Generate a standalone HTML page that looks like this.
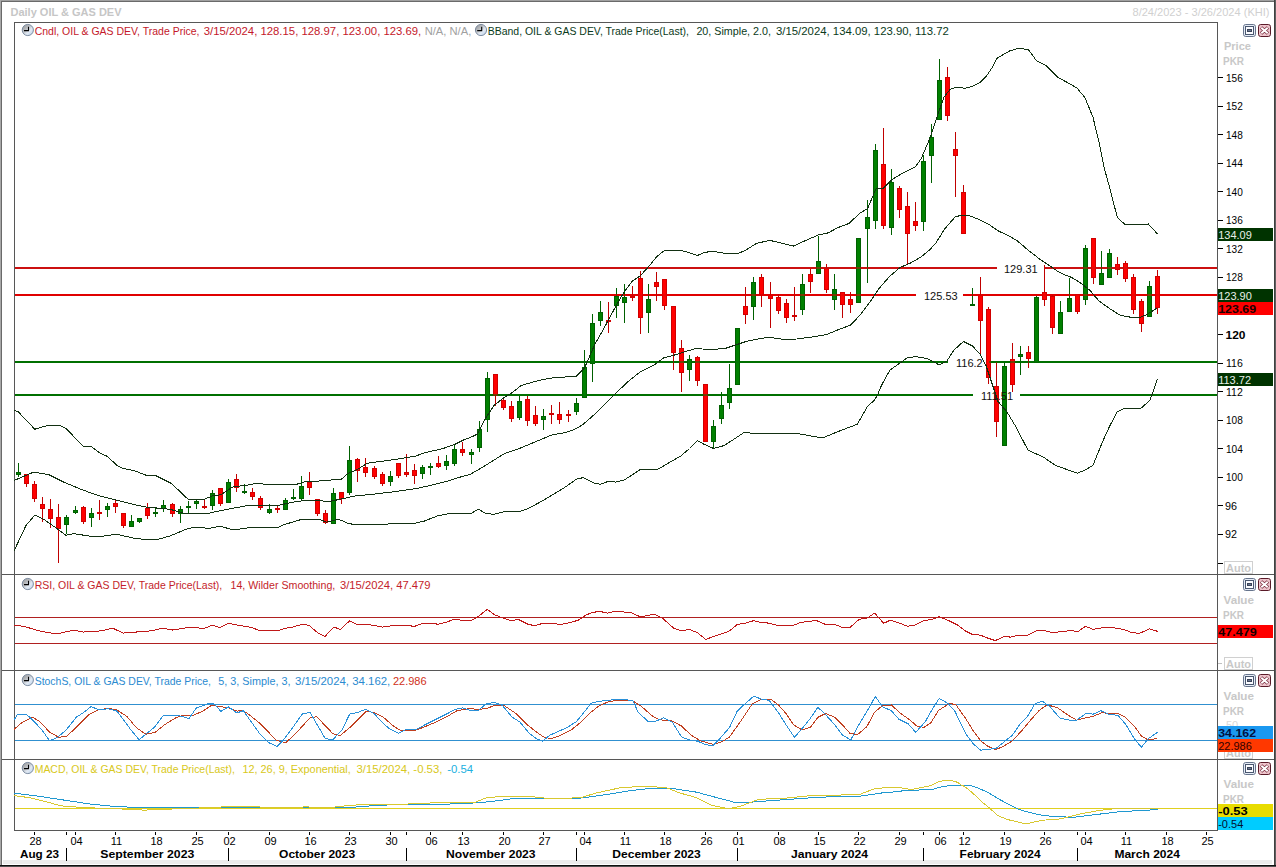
<!DOCTYPE html>
<html><head><meta charset="utf-8"><style>
html,body{margin:0;padding:0;background:#fff;overflow:hidden;}
svg{display:block;font-family:"Liberation Sans", sans-serif;}
text{white-space:pre;}
</style></head><body>
<svg width="1276" height="867" viewBox="0 0 1276 867">
<defs>
<linearGradient id="clk" x1="0" y1="0" x2="1" y2="1">
<stop offset="0" stop-color="#949494"/><stop offset="0.35" stop-color="#b6b9bd"/><stop offset="0.62" stop-color="#e2eaf4"/><stop offset="1" stop-color="#b4cce8"/>
</linearGradient>
</defs>
<rect x="0" y="0" width="1276" height="867" fill="#fff"/>

<g shape-rendering="crispEdges">
<rect x="0" y="0" width="1276" height="1" fill="#a0a0a0"/>
<rect x="1" y="1" width="1274" height="1" fill="#6a6a6a"/>
<rect x="0" y="0" width="1" height="867" fill="#a8a8a8"/>
<rect x="1" y="1" width="1" height="866" fill="#6a6a6a"/>
<rect x="1274" y="0" width="1" height="867" fill="#404040"/>
<rect x="1275" y="0" width="1" height="867" fill="#606060"/>
<rect x="3" y="860" width="1269" height="4" fill="#ececec"/>
<rect x="0" y="865" width="1276" height="1" fill="#101010"/>
<rect x="0" y="866" width="1276" height="1" fill="#505050"/>
</g>
<text x="10.5" y="16" fill="#c6c6c6" font-size="11" font-weight="bold" text-anchor="start" textLength="111" lengthAdjust="spacingAndGlyphs">Daily OIL &amp; GAS DEV</text>
<text x="1132.5" y="16" fill="#d0d0d0" font-size="11" font-weight="normal" text-anchor="start" textLength="137" lengthAdjust="spacingAndGlyphs">8/24/2023 - 3/26/2024 (KHI)</text>
<g shape-rendering="crispEdges">
<rect x="14" y="22" width="1204" height="1" fill="#575757"/>
<rect x="2" y="574" width="1272" height="1" fill="#575757"/>
<rect x="2" y="670" width="1272" height="1" fill="#575757"/>
<rect x="2" y="759" width="1272" height="1" fill="#575757"/>
<rect x="14" y="830" width="1204" height="1" fill="#575757"/>
<rect x="14" y="22" width="1" height="809" fill="#575757"/>
<rect x="1217" y="22" width="1" height="809" fill="#575757"/>
</g>
<g shape-rendering="crispEdges" opacity="1">
<rect x="15" y="267" width="982" height="2" fill="#cc1010"/>
<rect x="1044" y="267" width="173" height="2" fill="#cc1010"/>
<rect x="15" y="294" width="901" height="2" fill="#e00000"/>
<rect x="963" y="294" width="254" height="2" fill="#e00000"/>
<rect x="15" y="361" width="933" height="2" fill="#007000"/>
<rect x="989" y="361" width="228" height="2" fill="#007000"/>
<rect x="15" y="394" width="958" height="2" fill="#007000"/>
<rect x="1020" y="394" width="197" height="2" fill="#007000"/>
</g>
<g shape-rendering="crispEdges">
<rect x="18" y="463" width="1" height="14" fill="#006000"/>
<rect x="16" y="472" width="5" height="3" fill="#006000"/>
<rect x="17" y="473" width="3" height="1" fill="#008000"/>
<rect x="26" y="474" width="1" height="13" fill="#c00000"/>
<rect x="24" y="474" width="5" height="10" fill="#d00000"/>
<rect x="25" y="475" width="3" height="8" fill="#ff0000"/>
<rect x="34" y="481" width="1" height="21" fill="#c00000"/>
<rect x="32" y="484" width="5" height="15" fill="#d00000"/>
<rect x="33" y="485" width="3" height="13" fill="#ff0000"/>
<rect x="42" y="497" width="1" height="25" fill="#c00000"/>
<rect x="40" y="504" width="5" height="5" fill="#d00000"/>
<rect x="41" y="505" width="3" height="3" fill="#ff0000"/>
<rect x="50" y="499" width="1" height="29" fill="#c00000"/>
<rect x="48" y="509" width="5" height="10" fill="#d00000"/>
<rect x="49" y="510" width="3" height="8" fill="#ff0000"/>
<rect x="58" y="504" width="1" height="59" fill="#c00000"/>
<rect x="56" y="517" width="5" height="12" fill="#d00000"/>
<rect x="57" y="518" width="3" height="10" fill="#ff0000"/>
<rect x="66" y="515" width="1" height="19" fill="#006000"/>
<rect x="64" y="517" width="5" height="8" fill="#006000"/>
<rect x="65" y="518" width="3" height="6" fill="#008000"/>
<rect x="75" y="506" width="1" height="8" fill="#006000"/>
<rect x="73" y="510" width="5" height="3" fill="#006000"/>
<rect x="74" y="511" width="3" height="1" fill="#008000"/>
<rect x="83" y="506" width="1" height="18" fill="#c00000"/>
<rect x="81" y="507" width="5" height="15" fill="#d00000"/>
<rect x="82" y="508" width="3" height="13" fill="#ff0000"/>
<rect x="91" y="508" width="1" height="19" fill="#006000"/>
<rect x="89" y="513" width="5" height="5" fill="#006000"/>
<rect x="90" y="514" width="3" height="3" fill="#008000"/>
<rect x="99" y="500" width="1" height="20" fill="#c00000"/>
<rect x="97" y="512" width="5" height="2" fill="#d00000"/>
<rect x="107" y="503" width="1" height="14" fill="#006000"/>
<rect x="105" y="506" width="5" height="4" fill="#006000"/>
<rect x="106" y="507" width="3" height="2" fill="#008000"/>
<rect x="115" y="500" width="1" height="13" fill="#c00000"/>
<rect x="113" y="503" width="5" height="4" fill="#d00000"/>
<rect x="114" y="504" width="3" height="2" fill="#ff0000"/>
<rect x="123" y="513" width="1" height="15" fill="#c00000"/>
<rect x="121" y="513" width="5" height="13" fill="#d00000"/>
<rect x="122" y="514" width="3" height="11" fill="#ff0000"/>
<rect x="131" y="515" width="1" height="12" fill="#006000"/>
<rect x="129" y="521" width="5" height="6" fill="#006000"/>
<rect x="130" y="522" width="3" height="4" fill="#008000"/>
<rect x="139" y="518" width="1" height="5" fill="#006000"/>
<rect x="137" y="518" width="5" height="4" fill="#006000"/>
<rect x="138" y="519" width="3" height="2" fill="#008000"/>
<rect x="147" y="503" width="1" height="16" fill="#c00000"/>
<rect x="145" y="508" width="5" height="8" fill="#d00000"/>
<rect x="146" y="509" width="3" height="6" fill="#ff0000"/>
<rect x="155" y="508" width="1" height="9" fill="#006000"/>
<rect x="153" y="512" width="5" height="2" fill="#006000"/>
<rect x="163" y="500" width="1" height="12" fill="#006000"/>
<rect x="161" y="505" width="5" height="4" fill="#006000"/>
<rect x="162" y="506" width="3" height="2" fill="#008000"/>
<rect x="172" y="503" width="1" height="14" fill="#c00000"/>
<rect x="170" y="504" width="5" height="10" fill="#d00000"/>
<rect x="171" y="505" width="3" height="8" fill="#ff0000"/>
<rect x="180" y="506" width="1" height="17" fill="#006000"/>
<rect x="178" y="509" width="5" height="5" fill="#006000"/>
<rect x="179" y="510" width="3" height="3" fill="#008000"/>
<rect x="188" y="501" width="1" height="13" fill="#006000"/>
<rect x="186" y="506" width="5" height="2" fill="#006000"/>
<rect x="196" y="500" width="1" height="9" fill="#006000"/>
<rect x="194" y="501" width="5" height="3" fill="#006000"/>
<rect x="195" y="502" width="3" height="1" fill="#008000"/>
<rect x="204" y="500" width="1" height="9" fill="#c00000"/>
<rect x="202" y="506" width="5" height="2" fill="#d00000"/>
<rect x="212" y="490" width="1" height="20" fill="#006000"/>
<rect x="210" y="493" width="5" height="13" fill="#006000"/>
<rect x="211" y="494" width="3" height="11" fill="#008000"/>
<rect x="220" y="488" width="1" height="18" fill="#c00000"/>
<rect x="218" y="488" width="5" height="16" fill="#d00000"/>
<rect x="219" y="489" width="3" height="14" fill="#ff0000"/>
<rect x="228" y="479" width="1" height="24" fill="#006000"/>
<rect x="226" y="482" width="5" height="21" fill="#006000"/>
<rect x="227" y="483" width="3" height="19" fill="#008000"/>
<rect x="236" y="474" width="1" height="18" fill="#c00000"/>
<rect x="234" y="479" width="5" height="9" fill="#d00000"/>
<rect x="235" y="480" width="3" height="7" fill="#ff0000"/>
<rect x="244" y="484" width="1" height="10" fill="#006000"/>
<rect x="242" y="491" width="5" height="2" fill="#006000"/>
<rect x="252" y="488" width="1" height="12" fill="#c00000"/>
<rect x="250" y="492" width="5" height="5" fill="#d00000"/>
<rect x="251" y="493" width="3" height="3" fill="#ff0000"/>
<rect x="260" y="496" width="1" height="14" fill="#c00000"/>
<rect x="258" y="498" width="5" height="10" fill="#d00000"/>
<rect x="259" y="499" width="3" height="8" fill="#ff0000"/>
<rect x="269" y="504" width="1" height="10" fill="#006000"/>
<rect x="267" y="509" width="5" height="4" fill="#006000"/>
<rect x="268" y="510" width="3" height="2" fill="#008000"/>
<rect x="277" y="506" width="1" height="7" fill="#c00000"/>
<rect x="275" y="508" width="5" height="2" fill="#d00000"/>
<rect x="285" y="498" width="1" height="12" fill="#006000"/>
<rect x="283" y="500" width="5" height="10" fill="#006000"/>
<rect x="284" y="501" width="3" height="8" fill="#008000"/>
<rect x="293" y="489" width="1" height="11" fill="#006000"/>
<rect x="291" y="497" width="5" height="2" fill="#006000"/>
<rect x="301" y="476" width="1" height="24" fill="#006000"/>
<rect x="299" y="486" width="5" height="13" fill="#006000"/>
<rect x="300" y="487" width="3" height="11" fill="#008000"/>
<rect x="309" y="472" width="1" height="23" fill="#c00000"/>
<rect x="307" y="482" width="5" height="6" fill="#d00000"/>
<rect x="308" y="483" width="3" height="4" fill="#ff0000"/>
<rect x="317" y="499" width="1" height="17" fill="#c00000"/>
<rect x="315" y="499" width="5" height="15" fill="#d00000"/>
<rect x="316" y="500" width="3" height="13" fill="#ff0000"/>
<rect x="325" y="510" width="1" height="14" fill="#c00000"/>
<rect x="323" y="513" width="5" height="10" fill="#d00000"/>
<rect x="324" y="514" width="3" height="8" fill="#ff0000"/>
<rect x="333" y="488" width="1" height="36" fill="#006000"/>
<rect x="331" y="493" width="5" height="31" fill="#006000"/>
<rect x="332" y="494" width="3" height="29" fill="#008000"/>
<rect x="341" y="492" width="1" height="12" fill="#c00000"/>
<rect x="339" y="492" width="5" height="7" fill="#d00000"/>
<rect x="340" y="493" width="3" height="5" fill="#ff0000"/>
<rect x="349" y="446" width="1" height="49" fill="#006000"/>
<rect x="347" y="460" width="5" height="33" fill="#006000"/>
<rect x="348" y="461" width="3" height="31" fill="#008000"/>
<rect x="357" y="458" width="1" height="24" fill="#c00000"/>
<rect x="355" y="459" width="5" height="12" fill="#d00000"/>
<rect x="356" y="460" width="3" height="10" fill="#ff0000"/>
<rect x="365" y="458" width="1" height="19" fill="#c00000"/>
<rect x="363" y="467" width="5" height="6" fill="#d00000"/>
<rect x="364" y="468" width="3" height="4" fill="#ff0000"/>
<rect x="374" y="466" width="1" height="13" fill="#c00000"/>
<rect x="372" y="468" width="5" height="9" fill="#d00000"/>
<rect x="373" y="469" width="3" height="7" fill="#ff0000"/>
<rect x="382" y="472" width="1" height="14" fill="#c00000"/>
<rect x="380" y="474" width="5" height="10" fill="#d00000"/>
<rect x="381" y="475" width="3" height="8" fill="#ff0000"/>
<rect x="390" y="471" width="1" height="15" fill="#006000"/>
<rect x="388" y="476" width="5" height="6" fill="#006000"/>
<rect x="389" y="477" width="3" height="4" fill="#008000"/>
<rect x="398" y="463" width="1" height="15" fill="#c00000"/>
<rect x="396" y="463" width="5" height="13" fill="#d00000"/>
<rect x="397" y="464" width="3" height="11" fill="#ff0000"/>
<rect x="406" y="454" width="1" height="23" fill="#c00000"/>
<rect x="404" y="472" width="5" height="3" fill="#d00000"/>
<rect x="405" y="473" width="3" height="1" fill="#ff0000"/>
<rect x="414" y="464" width="1" height="20" fill="#c00000"/>
<rect x="412" y="470" width="5" height="6" fill="#d00000"/>
<rect x="413" y="471" width="3" height="4" fill="#ff0000"/>
<rect x="422" y="465" width="1" height="14" fill="#006000"/>
<rect x="420" y="467" width="5" height="7" fill="#006000"/>
<rect x="421" y="468" width="3" height="5" fill="#008000"/>
<rect x="430" y="463" width="1" height="12" fill="#006000"/>
<rect x="428" y="466" width="5" height="2" fill="#006000"/>
<rect x="438" y="456" width="1" height="12" fill="#c00000"/>
<rect x="436" y="463" width="5" height="4" fill="#d00000"/>
<rect x="437" y="464" width="3" height="2" fill="#ff0000"/>
<rect x="446" y="455" width="1" height="15" fill="#006000"/>
<rect x="444" y="461" width="5" height="5" fill="#006000"/>
<rect x="445" y="462" width="3" height="3" fill="#008000"/>
<rect x="454" y="444" width="1" height="22" fill="#006000"/>
<rect x="452" y="449" width="5" height="15" fill="#006000"/>
<rect x="453" y="450" width="3" height="13" fill="#008000"/>
<rect x="462" y="442" width="1" height="14" fill="#c00000"/>
<rect x="460" y="449" width="5" height="4" fill="#d00000"/>
<rect x="461" y="450" width="3" height="2" fill="#ff0000"/>
<rect x="471" y="449" width="1" height="15" fill="#006000"/>
<rect x="469" y="452" width="5" height="3" fill="#006000"/>
<rect x="470" y="453" width="3" height="1" fill="#008000"/>
<rect x="479" y="421" width="1" height="31" fill="#006000"/>
<rect x="477" y="429" width="5" height="19" fill="#006000"/>
<rect x="478" y="430" width="3" height="17" fill="#008000"/>
<rect x="487" y="372" width="1" height="60" fill="#006000"/>
<rect x="485" y="378" width="5" height="42" fill="#006000"/>
<rect x="486" y="379" width="3" height="40" fill="#008000"/>
<rect x="495" y="374" width="1" height="32" fill="#c00000"/>
<rect x="493" y="374" width="5" height="22" fill="#d00000"/>
<rect x="494" y="375" width="3" height="20" fill="#ff0000"/>
<rect x="503" y="398" width="1" height="12" fill="#c00000"/>
<rect x="501" y="400" width="5" height="8" fill="#d00000"/>
<rect x="502" y="401" width="3" height="6" fill="#ff0000"/>
<rect x="511" y="401" width="1" height="21" fill="#c00000"/>
<rect x="509" y="406" width="5" height="13" fill="#d00000"/>
<rect x="510" y="407" width="3" height="11" fill="#ff0000"/>
<rect x="519" y="396" width="1" height="24" fill="#006000"/>
<rect x="517" y="401" width="5" height="17" fill="#006000"/>
<rect x="518" y="402" width="3" height="15" fill="#008000"/>
<rect x="527" y="396" width="1" height="30" fill="#c00000"/>
<rect x="525" y="399" width="5" height="22" fill="#d00000"/>
<rect x="526" y="400" width="3" height="20" fill="#ff0000"/>
<rect x="535" y="406" width="1" height="20" fill="#c00000"/>
<rect x="533" y="415" width="5" height="9" fill="#d00000"/>
<rect x="534" y="416" width="3" height="7" fill="#ff0000"/>
<rect x="543" y="409" width="1" height="21" fill="#006000"/>
<rect x="541" y="416" width="5" height="4" fill="#006000"/>
<rect x="542" y="417" width="3" height="2" fill="#008000"/>
<rect x="551" y="405" width="1" height="19" fill="#c00000"/>
<rect x="549" y="413" width="5" height="2" fill="#d00000"/>
<rect x="559" y="402" width="1" height="22" fill="#c00000"/>
<rect x="557" y="414" width="5" height="6" fill="#d00000"/>
<rect x="558" y="415" width="3" height="4" fill="#ff0000"/>
<rect x="568" y="410" width="1" height="12" fill="#c00000"/>
<rect x="566" y="414" width="5" height="2" fill="#d00000"/>
<rect x="576" y="398" width="1" height="17" fill="#006000"/>
<rect x="574" y="403" width="5" height="9" fill="#006000"/>
<rect x="575" y="404" width="3" height="7" fill="#008000"/>
<rect x="584" y="350" width="1" height="48" fill="#006000"/>
<rect x="582" y="367" width="5" height="31" fill="#006000"/>
<rect x="583" y="368" width="3" height="29" fill="#008000"/>
<rect x="592" y="314" width="1" height="68" fill="#006000"/>
<rect x="590" y="323" width="5" height="41" fill="#006000"/>
<rect x="591" y="324" width="3" height="39" fill="#008000"/>
<rect x="600" y="301" width="1" height="25" fill="#006000"/>
<rect x="598" y="312" width="5" height="9" fill="#006000"/>
<rect x="599" y="313" width="3" height="7" fill="#008000"/>
<rect x="608" y="302" width="1" height="31" fill="#c00000"/>
<rect x="606" y="320" width="5" height="2" fill="#d00000"/>
<rect x="616" y="288" width="1" height="30" fill="#006000"/>
<rect x="614" y="296" width="5" height="10" fill="#006000"/>
<rect x="615" y="297" width="3" height="8" fill="#008000"/>
<rect x="624" y="284" width="1" height="39" fill="#006000"/>
<rect x="622" y="297" width="5" height="6" fill="#006000"/>
<rect x="623" y="298" width="3" height="4" fill="#008000"/>
<rect x="632" y="286" width="1" height="15" fill="#c00000"/>
<rect x="630" y="296" width="5" height="2" fill="#d00000"/>
<rect x="640" y="271" width="1" height="63" fill="#c00000"/>
<rect x="638" y="278" width="5" height="40" fill="#d00000"/>
<rect x="639" y="279" width="3" height="38" fill="#ff0000"/>
<rect x="648" y="284" width="1" height="49" fill="#006000"/>
<rect x="646" y="299" width="5" height="14" fill="#006000"/>
<rect x="647" y="300" width="3" height="12" fill="#008000"/>
<rect x="656" y="272" width="1" height="29" fill="#c00000"/>
<rect x="654" y="282" width="5" height="5" fill="#d00000"/>
<rect x="655" y="283" width="3" height="3" fill="#ff0000"/>
<rect x="664" y="279" width="1" height="31" fill="#c00000"/>
<rect x="662" y="279" width="5" height="27" fill="#d00000"/>
<rect x="663" y="280" width="3" height="25" fill="#ff0000"/>
<rect x="673" y="306" width="1" height="64" fill="#c00000"/>
<rect x="671" y="306" width="5" height="47" fill="#d00000"/>
<rect x="672" y="307" width="3" height="45" fill="#ff0000"/>
<rect x="681" y="340" width="1" height="52" fill="#c00000"/>
<rect x="679" y="348" width="5" height="25" fill="#d00000"/>
<rect x="680" y="349" width="3" height="23" fill="#ff0000"/>
<rect x="689" y="355" width="1" height="26" fill="#006000"/>
<rect x="687" y="359" width="5" height="11" fill="#006000"/>
<rect x="688" y="360" width="3" height="9" fill="#008000"/>
<rect x="697" y="356" width="1" height="30" fill="#c00000"/>
<rect x="695" y="357" width="5" height="24" fill="#d00000"/>
<rect x="696" y="358" width="3" height="22" fill="#ff0000"/>
<rect x="705" y="384" width="1" height="58" fill="#c00000"/>
<rect x="703" y="384" width="5" height="58" fill="#d00000"/>
<rect x="704" y="385" width="3" height="56" fill="#ff0000"/>
<rect x="713" y="420" width="1" height="29" fill="#006000"/>
<rect x="711" y="426" width="5" height="16" fill="#006000"/>
<rect x="712" y="427" width="3" height="14" fill="#008000"/>
<rect x="721" y="392" width="1" height="32" fill="#006000"/>
<rect x="719" y="405" width="5" height="14" fill="#006000"/>
<rect x="720" y="406" width="3" height="12" fill="#008000"/>
<rect x="729" y="364" width="1" height="45" fill="#006000"/>
<rect x="727" y="388" width="5" height="15" fill="#006000"/>
<rect x="728" y="389" width="3" height="13" fill="#008000"/>
<rect x="737" y="328" width="1" height="57" fill="#006000"/>
<rect x="735" y="328" width="5" height="57" fill="#006000"/>
<rect x="736" y="329" width="3" height="55" fill="#008000"/>
<rect x="745" y="287" width="1" height="37" fill="#c00000"/>
<rect x="743" y="306" width="5" height="9" fill="#d00000"/>
<rect x="744" y="307" width="3" height="7" fill="#ff0000"/>
<rect x="753" y="277" width="1" height="43" fill="#006000"/>
<rect x="751" y="282" width="5" height="25" fill="#006000"/>
<rect x="752" y="283" width="3" height="23" fill="#008000"/>
<rect x="761" y="274" width="1" height="33" fill="#c00000"/>
<rect x="759" y="277" width="5" height="18" fill="#d00000"/>
<rect x="760" y="278" width="3" height="16" fill="#ff0000"/>
<rect x="770" y="282" width="1" height="46" fill="#c00000"/>
<rect x="768" y="295" width="5" height="4" fill="#d00000"/>
<rect x="769" y="296" width="3" height="2" fill="#ff0000"/>
<rect x="778" y="294" width="1" height="20" fill="#c00000"/>
<rect x="776" y="297" width="5" height="14" fill="#d00000"/>
<rect x="777" y="298" width="3" height="12" fill="#ff0000"/>
<rect x="786" y="299" width="1" height="24" fill="#c00000"/>
<rect x="784" y="303" width="5" height="15" fill="#d00000"/>
<rect x="785" y="304" width="3" height="13" fill="#ff0000"/>
<rect x="794" y="287" width="1" height="34" fill="#c00000"/>
<rect x="792" y="315" width="5" height="2" fill="#d00000"/>
<rect x="802" y="274" width="1" height="41" fill="#006000"/>
<rect x="800" y="284" width="5" height="26" fill="#006000"/>
<rect x="801" y="285" width="3" height="24" fill="#008000"/>
<rect x="810" y="269" width="1" height="24" fill="#c00000"/>
<rect x="808" y="274" width="5" height="8" fill="#d00000"/>
<rect x="809" y="275" width="3" height="6" fill="#ff0000"/>
<rect x="818" y="236" width="1" height="38" fill="#006000"/>
<rect x="816" y="261" width="5" height="13" fill="#006000"/>
<rect x="817" y="262" width="3" height="11" fill="#008000"/>
<rect x="826" y="264" width="1" height="29" fill="#c00000"/>
<rect x="824" y="268" width="5" height="22" fill="#d00000"/>
<rect x="825" y="269" width="3" height="20" fill="#ff0000"/>
<rect x="834" y="274" width="1" height="36" fill="#006000"/>
<rect x="832" y="289" width="5" height="11" fill="#006000"/>
<rect x="833" y="290" width="3" height="9" fill="#008000"/>
<rect x="842" y="292" width="1" height="26" fill="#c00000"/>
<rect x="840" y="292" width="5" height="13" fill="#d00000"/>
<rect x="841" y="293" width="3" height="11" fill="#ff0000"/>
<rect x="850" y="292" width="1" height="21" fill="#c00000"/>
<rect x="848" y="299" width="5" height="6" fill="#d00000"/>
<rect x="849" y="300" width="3" height="4" fill="#ff0000"/>
<rect x="858" y="238" width="1" height="65" fill="#006000"/>
<rect x="856" y="238" width="5" height="65" fill="#006000"/>
<rect x="857" y="239" width="3" height="63" fill="#008000"/>
<rect x="867" y="200" width="1" height="83" fill="#006000"/>
<rect x="865" y="217" width="5" height="12" fill="#006000"/>
<rect x="866" y="218" width="3" height="10" fill="#008000"/>
<rect x="875" y="144" width="1" height="85" fill="#006000"/>
<rect x="873" y="150" width="5" height="71" fill="#006000"/>
<rect x="874" y="151" width="3" height="69" fill="#008000"/>
<rect x="883" y="128" width="1" height="101" fill="#c00000"/>
<rect x="881" y="164" width="5" height="62" fill="#d00000"/>
<rect x="882" y="165" width="3" height="60" fill="#ff0000"/>
<rect x="891" y="169" width="1" height="66" fill="#006000"/>
<rect x="889" y="182" width="5" height="46" fill="#006000"/>
<rect x="890" y="183" width="3" height="44" fill="#008000"/>
<rect x="899" y="186" width="1" height="32" fill="#c00000"/>
<rect x="897" y="188" width="5" height="22" fill="#d00000"/>
<rect x="898" y="189" width="3" height="20" fill="#ff0000"/>
<rect x="907" y="192" width="1" height="72" fill="#c00000"/>
<rect x="905" y="206" width="5" height="28" fill="#d00000"/>
<rect x="906" y="207" width="3" height="26" fill="#ff0000"/>
<rect x="915" y="202" width="1" height="29" fill="#c00000"/>
<rect x="913" y="221" width="5" height="5" fill="#d00000"/>
<rect x="914" y="222" width="3" height="3" fill="#ff0000"/>
<rect x="923" y="155" width="1" height="76" fill="#006000"/>
<rect x="921" y="161" width="5" height="61" fill="#006000"/>
<rect x="922" y="162" width="3" height="59" fill="#008000"/>
<rect x="931" y="124" width="1" height="59" fill="#006000"/>
<rect x="929" y="137" width="5" height="19" fill="#006000"/>
<rect x="930" y="138" width="3" height="17" fill="#008000"/>
<rect x="939" y="59" width="1" height="61" fill="#006000"/>
<rect x="937" y="80" width="5" height="40" fill="#006000"/>
<rect x="938" y="81" width="3" height="38" fill="#008000"/>
<rect x="947" y="67" width="1" height="54" fill="#c00000"/>
<rect x="945" y="77" width="5" height="39" fill="#d00000"/>
<rect x="946" y="78" width="3" height="37" fill="#ff0000"/>
<rect x="955" y="132" width="1" height="65" fill="#c00000"/>
<rect x="953" y="149" width="5" height="7" fill="#d00000"/>
<rect x="954" y="150" width="3" height="5" fill="#ff0000"/>
<rect x="963" y="185" width="1" height="49" fill="#c00000"/>
<rect x="961" y="192" width="5" height="42" fill="#d00000"/>
<rect x="962" y="193" width="3" height="40" fill="#ff0000"/>
<rect x="972" y="288" width="1" height="17" fill="#006000"/>
<rect x="970" y="304" width="5" height="2" fill="#006000"/>
<rect x="980" y="277" width="1" height="78" fill="#c00000"/>
<rect x="978" y="295" width="5" height="26" fill="#d00000"/>
<rect x="979" y="296" width="3" height="24" fill="#ff0000"/>
<rect x="988" y="307" width="1" height="77" fill="#c00000"/>
<rect x="986" y="309" width="5" height="69" fill="#d00000"/>
<rect x="987" y="310" width="3" height="67" fill="#ff0000"/>
<rect x="996" y="362" width="1" height="75" fill="#c00000"/>
<rect x="994" y="386" width="5" height="36" fill="#d00000"/>
<rect x="995" y="387" width="3" height="34" fill="#ff0000"/>
<rect x="1004" y="362" width="1" height="84" fill="#006000"/>
<rect x="1002" y="366" width="5" height="80" fill="#006000"/>
<rect x="1003" y="367" width="3" height="78" fill="#008000"/>
<rect x="1012" y="343" width="1" height="49" fill="#c00000"/>
<rect x="1010" y="359" width="5" height="26" fill="#d00000"/>
<rect x="1011" y="360" width="3" height="24" fill="#ff0000"/>
<rect x="1020" y="346" width="1" height="29" fill="#006000"/>
<rect x="1018" y="354" width="5" height="3" fill="#006000"/>
<rect x="1019" y="355" width="3" height="1" fill="#008000"/>
<rect x="1028" y="346" width="1" height="22" fill="#c00000"/>
<rect x="1026" y="352" width="5" height="7" fill="#d00000"/>
<rect x="1027" y="353" width="3" height="5" fill="#ff0000"/>
<rect x="1036" y="296" width="1" height="67" fill="#006000"/>
<rect x="1034" y="297" width="5" height="66" fill="#006000"/>
<rect x="1035" y="298" width="3" height="64" fill="#008000"/>
<rect x="1044" y="265" width="1" height="41" fill="#c00000"/>
<rect x="1042" y="292" width="5" height="8" fill="#d00000"/>
<rect x="1043" y="293" width="3" height="6" fill="#ff0000"/>
<rect x="1052" y="295" width="1" height="39" fill="#c00000"/>
<rect x="1050" y="296" width="5" height="32" fill="#d00000"/>
<rect x="1051" y="297" width="3" height="30" fill="#ff0000"/>
<rect x="1060" y="301" width="1" height="33" fill="#006000"/>
<rect x="1058" y="312" width="5" height="22" fill="#006000"/>
<rect x="1059" y="313" width="3" height="20" fill="#008000"/>
<rect x="1069" y="278" width="1" height="34" fill="#006000"/>
<rect x="1067" y="298" width="5" height="14" fill="#006000"/>
<rect x="1068" y="299" width="3" height="12" fill="#008000"/>
<rect x="1077" y="294" width="1" height="20" fill="#c00000"/>
<rect x="1075" y="294" width="5" height="18" fill="#d00000"/>
<rect x="1076" y="295" width="3" height="16" fill="#ff0000"/>
<rect x="1085" y="245" width="1" height="60" fill="#006000"/>
<rect x="1083" y="248" width="5" height="52" fill="#006000"/>
<rect x="1084" y="249" width="3" height="50" fill="#008000"/>
<rect x="1093" y="238" width="1" height="46" fill="#c00000"/>
<rect x="1091" y="238" width="5" height="40" fill="#d00000"/>
<rect x="1092" y="239" width="3" height="38" fill="#ff0000"/>
<rect x="1101" y="251" width="1" height="34" fill="#006000"/>
<rect x="1099" y="273" width="5" height="12" fill="#006000"/>
<rect x="1100" y="274" width="3" height="10" fill="#008000"/>
<rect x="1109" y="249" width="1" height="29" fill="#006000"/>
<rect x="1107" y="253" width="5" height="25" fill="#006000"/>
<rect x="1108" y="254" width="3" height="23" fill="#008000"/>
<rect x="1117" y="257" width="1" height="18" fill="#c00000"/>
<rect x="1115" y="264" width="5" height="6" fill="#d00000"/>
<rect x="1116" y="265" width="3" height="4" fill="#ff0000"/>
<rect x="1125" y="261" width="1" height="21" fill="#c00000"/>
<rect x="1123" y="263" width="5" height="16" fill="#d00000"/>
<rect x="1124" y="264" width="3" height="14" fill="#ff0000"/>
<rect x="1133" y="274" width="1" height="40" fill="#c00000"/>
<rect x="1131" y="277" width="5" height="33" fill="#d00000"/>
<rect x="1132" y="278" width="3" height="31" fill="#ff0000"/>
<rect x="1141" y="299" width="1" height="33" fill="#c00000"/>
<rect x="1139" y="301" width="5" height="23" fill="#d00000"/>
<rect x="1140" y="302" width="3" height="21" fill="#ff0000"/>
<rect x="1149" y="281" width="1" height="36" fill="#006000"/>
<rect x="1147" y="286" width="5" height="31" fill="#006000"/>
<rect x="1148" y="287" width="3" height="29" fill="#008000"/>
<rect x="1157" y="270" width="1" height="44" fill="#c00000"/>
<rect x="1155" y="276" width="5" height="32" fill="#d00000"/>
<rect x="1156" y="277" width="3" height="30" fill="#ff0000"/>
</g>
<g shape-rendering="crispEdges" opacity="0.5">
<rect x="15" y="267" width="982" height="2" fill="#cc1010"/>
<rect x="1044" y="267" width="173" height="2" fill="#cc1010"/>
<rect x="15" y="294" width="901" height="2" fill="#e00000"/>
<rect x="963" y="294" width="254" height="2" fill="#e00000"/>
<rect x="15" y="361" width="933" height="2" fill="#007000"/>
<rect x="989" y="361" width="228" height="2" fill="#007000"/>
<rect x="15" y="394" width="958" height="2" fill="#007000"/>
<rect x="1020" y="394" width="197" height="2" fill="#007000"/>
</g>
<text x="1004" y="273" fill="#101010" font-size="11" font-weight="normal" text-anchor="start">129.31</text>
<text x="924" y="300" fill="#101010" font-size="11" font-weight="normal" text-anchor="start">125.53</text>
<text x="956" y="367" fill="#101010" font-size="11" font-weight="normal" text-anchor="start">116.2</text>
<text x="981" y="400" fill="#101010" font-size="11" font-weight="normal" text-anchor="start">111.51</text>
<g fill="none" stroke="#123012" stroke-width="1" shape-rendering="crispEdges">
<polyline points="14.0,410.2 18.2,411.8 34.8,429.2 48.3,425.3 59.2,425.3 65.9,428.4 83.6,446.6 91.3,446.6 100.2,453.3 107.4,456.4 116.8,465.3 123.0,468.4 134.0,470.5 146.0,475.2 155.0,475.2 171.5,483.5 188.0,499.2 204.5,499.2 212.0,496.0 221.0,494.7 233.0,486.8 245.0,485.5 257.5,483.2 265.0,484.3 296.5,484.3 305.5,481.7 319.0,481.0 341.5,479.2 347.5,473.5 357.0,469.7 367.5,463.2 390.0,460.2 415.5,456.2 424.5,452.7 442.5,448.7 454.5,444.5 465.0,439.2 470.0,437.7 477.5,434.0 485.0,419.0 494.0,405.5 504.5,397.2 512.0,392.7 521.0,385.7 534.5,381.5 549.5,378.2 565.0,377.0 576.2,376.2 584.5,368.0 595.0,344.0 604.0,328.2 614.5,308.7 623.5,293.0 632.5,281.0 640.0,276.0 649.4,265.8 657.0,256.4 664.5,250.4 681.4,250.4 689.0,252.7 697.4,255.5 704.0,252.7 711.5,251.2 724.6,253.2 737.8,253.6 745.3,250.4 756.6,243.3 769.8,240.4 781.0,242.9 793.3,246.1 803.6,241.4 818.7,234.8 828.0,232.9 837.5,227.8 848.8,223.5 860.0,213.2 867.6,208.5 876.0,188.7 883.5,188.2 892.5,179.2 900.0,174.7 915.0,167.2 921.0,159.0 930.0,138.0 937.2,116.5 944.0,97.0 950.0,89.5 956.0,87.2 965.0,88.3 971.0,86.8 980.0,82.7 986.0,76.7 992.0,67.7 996.5,58.7 1002.5,55.0 1010.0,50.8 1019.2,48.1 1028.4,49.7 1036.5,60.7 1045.7,65.4 1057.3,76.9 1067.6,82.7 1076.9,88.0 1084.9,97.6 1093.0,117.2 1098.8,141.4 1104.5,169.1 1110.3,189.9 1117.2,217.1 1125.3,224.9 1148.3,224.0 1157.5,234.0"/>
<polyline points="14.0,480.5 33.5,472.2 48.5,474.5 63.5,482.0 81.5,489.5 98.0,495.5 116.0,500.0 134.0,504.5 146.0,507.0 170.0,509.3 185.0,513.5 207.5,513.5 221.0,510.5 245.0,506.0 253.0,505.0 280.0,505.0 295.0,501.7 307.0,500.2 319.0,500.5 328.0,501.7 340.0,499.3 355.0,496.0 375.0,494.0 394.5,491.7 415.5,488.7 429.0,485.7 447.0,481.2 457.5,477.8 470.0,474.5 480.5,468.5 492.5,461.0 504.5,453.5 518.0,449.0 534.5,442.2 552.5,434.7 565.0,432.7 574.0,429.7 583.0,424.5 595.0,414.0 607.0,402.0 616.0,393.0 628.0,381.7 640.0,372.0 655.0,364.5 664.0,357.7 673.0,355.5 685.0,351.7 695.5,348.7 701.5,349.0 715.0,349.2 725.0,348.5 735.0,345.2 746.0,341.5 761.0,338.3 770.0,337.4 783.1,339.3 796.9,339.0 812.4,336.9 826.2,334.7 840.0,329.0 850.5,325.2 861.0,314.0 870.0,302.0 879.0,288.5 889.5,276.5 900.0,267.5 910.5,263.0 921.0,257.0 930.0,249.5 936.0,242.7 945.0,228.5 955.5,216.5 963.5,215.2 971.0,216.2 980.0,220.0 989.0,224.5 998.0,230.8 1010.0,236.5 1017.5,241.0 1028.0,250.0 1040.0,259.3 1050.0,266.0 1057.5,271.2 1065.0,275.0 1071.0,277.2 1080.0,282.5 1090.0,290.5 1099.0,301.0 1109.5,308.5 1120.0,315.2 1130.5,317.2 1139.5,317.5 1147.0,314.5 1157.5,307.7"/>
<polyline points="14.0,551.0 26.0,525.5 35.0,515.0 44.0,519.5 59.0,530.0 65.7,535.2 74.0,533.7 89.0,536.0 104.0,536.0 116.0,534.2 134.0,538.2 143.0,539.3 158.0,539.3 170.0,536.0 188.0,528.5 197.0,527.0 209.0,528.5 219.5,526.2 233.0,529.7 245.0,528.5 250.0,527.5 278.5,527.2 284.5,524.5 299.5,520.0 307.0,519.2 319.0,519.2 326.5,522.2 338.5,519.2 349.0,523.7 354.0,524.3 378.0,524.3 415.5,523.2 424.5,521.0 438.0,515.7 450.0,513.5 471.3,513.3 478.4,509.2 485.6,513.3 493.7,514.3 503.9,511.7 520.2,511.3 528.3,508.6 546.7,498.4 565.0,487.2 577.2,478.7 583.4,477.7 595.6,483.6 600.7,484.2 607.8,481.5 616.0,482.1 624.1,480.1 640.4,469.5 656.7,469.9 668.9,462.8 681.2,455.7 689.5,448.5 697.5,440.5 703.6,444.0 713.3,448.4 724.0,445.6 736.9,437.3 744.2,432.4 757.2,433.8 783.1,433.4 796.9,433.4 817.6,437.2 824.5,437.2 836.6,432.1 857.2,424.3 867.6,406.2 874.5,400.2 877.9,394.1 881.4,385.5 890.0,370.0 898.6,364.0 907.2,357.9 915.9,356.6 926.2,358.3 933.1,361.4 939.1,365.0 946.9,361.0 953.8,350.2 963.5,341.5 972.5,346.0 980.0,354.2 986.0,365.5 992.0,383.5 998.0,401.5 1007.0,412.0 1016.0,427.0 1028.0,450.2 1043.5,457.2 1055.5,465.4 1066.0,469.2 1077.2,473.2 1084.0,470.7 1093.0,465.4 1102.0,443.0 1109.5,426.5 1117.0,412.2 1124.4,408.2 1141.0,408.2 1150.0,400.2 1157.4,379.2"/>
</g>
<g><circle cx="27.8" cy="30" r="5.6" fill="url(#clk)" stroke="#728299" stroke-width="0.9"/><path d="M28.5 26.8 V30.6 H24.0" fill="none" stroke="#000" stroke-width="1.1"/></g>
<g><circle cx="481" cy="30" r="5.6" fill="url(#clk)" stroke="#728299" stroke-width="0.9"/><path d="M481.7 26.8 V30.6 H477.2" fill="none" stroke="#000" stroke-width="1.1"/></g>
<text x="34.7" y="35" fill="#c4182a" font-size="11" font-weight="normal" text-anchor="start" textLength="164.8" lengthAdjust="spacingAndGlyphs">Cndl, OIL &amp; GAS DEV, Trade Price,</text>
<text x="203.7" y="35" fill="#c4182a" font-size="11" font-weight="normal" text-anchor="start" textLength="217.6" lengthAdjust="spacingAndGlyphs">3/15/2024, 128.15, 128.97, 123.00, 123.69,</text>
<text x="424.7" y="35" fill="#a0a0a0" font-size="11" font-weight="normal" text-anchor="start" textLength="46.6" lengthAdjust="spacingAndGlyphs">N/A, N/A,</text>
<text x="487.7" y="35" fill="#0a3a1a" font-size="11" font-weight="normal" text-anchor="start" textLength="201.3" lengthAdjust="spacingAndGlyphs">BBand, OIL &amp; GAS DEV, Trade Price(Last),</text>
<text x="696.4" y="35" fill="#0a3a1a" font-size="11" font-weight="normal" text-anchor="start" textLength="74.6" lengthAdjust="spacingAndGlyphs">20, Simple, 2.0,</text>
<text x="776" y="35" fill="#0a3a1a" font-size="11" font-weight="normal" text-anchor="start" textLength="172.8" lengthAdjust="spacingAndGlyphs">3/15/2024, 134.09, 123.90, 113.72</text>
<g shape-rendering="crispEdges">
<rect x="1218" y="563" width="5" height="1" fill="#000"/>
<rect x="1218" y="534" width="5" height="1" fill="#000"/>
<rect x="1218" y="505" width="5" height="1" fill="#000"/>
<rect x="1218" y="477" width="5" height="1" fill="#000"/>
<rect x="1218" y="448" width="5" height="1" fill="#000"/>
<rect x="1218" y="420" width="5" height="1" fill="#000"/>
<rect x="1218" y="391" width="5" height="1" fill="#000"/>
<rect x="1218" y="363" width="5" height="1" fill="#000"/>
<rect x="1218" y="334" width="5" height="1" fill="#000"/>
<rect x="1218" y="305" width="5" height="1" fill="#000"/>
<rect x="1218" y="277" width="5" height="1" fill="#000"/>
<rect x="1218" y="248" width="5" height="1" fill="#000"/>
<rect x="1218" y="220" width="5" height="1" fill="#000"/>
<rect x="1218" y="191" width="5" height="1" fill="#000"/>
<rect x="1218" y="163" width="5" height="1" fill="#000"/>
<rect x="1218" y="134" width="5" height="1" fill="#000"/>
<rect x="1218" y="106" width="5" height="1" fill="#000"/>
<rect x="1218" y="77" width="5" height="1" fill="#000"/>
</g>
<text x="1225" y="538.4984" fill="#000" font-size="11" font-weight="normal" text-anchor="start" textLength="12" lengthAdjust="spacingAndGlyphs">92</text>
<text x="1225" y="509.936" fill="#000" font-size="11" font-weight="normal" text-anchor="start" textLength="12" lengthAdjust="spacingAndGlyphs">96</text>
<text x="1226" y="481.3736" fill="#000" font-size="11" font-weight="normal" text-anchor="start" textLength="16.8" lengthAdjust="spacingAndGlyphs">100</text>
<text x="1226" y="452.8112" fill="#000" font-size="11" font-weight="normal" text-anchor="start" textLength="16.8" lengthAdjust="spacingAndGlyphs">104</text>
<text x="1226" y="424.2488" fill="#000" font-size="11" font-weight="normal" text-anchor="start" textLength="16.8" lengthAdjust="spacingAndGlyphs">108</text>
<text x="1226" y="395.6864" fill="#000" font-size="11" font-weight="normal" text-anchor="start" textLength="16.8" lengthAdjust="spacingAndGlyphs">112</text>
<text x="1226" y="367.124" fill="#000" font-size="11" font-weight="normal" text-anchor="start" textLength="16.8" lengthAdjust="spacingAndGlyphs">116</text>
<text x="1225.5" y="338.5616" fill="#000" font-size="11" font-weight="bold" text-anchor="start" textLength="20" lengthAdjust="spacingAndGlyphs">120</text>
<text x="1226" y="281.4368" fill="#000" font-size="11" font-weight="normal" text-anchor="start" textLength="16.8" lengthAdjust="spacingAndGlyphs">128</text>
<text x="1226" y="252.8744" fill="#000" font-size="11" font-weight="normal" text-anchor="start" textLength="16.8" lengthAdjust="spacingAndGlyphs">132</text>
<text x="1226" y="224.312" fill="#000" font-size="11" font-weight="normal" text-anchor="start" textLength="16.8" lengthAdjust="spacingAndGlyphs">136</text>
<text x="1226" y="195.7496" fill="#000" font-size="11" font-weight="normal" text-anchor="start" textLength="16.8" lengthAdjust="spacingAndGlyphs">140</text>
<text x="1226" y="167.18720000000002" fill="#000" font-size="11" font-weight="normal" text-anchor="start" textLength="16.8" lengthAdjust="spacingAndGlyphs">144</text>
<text x="1226" y="138.6248" fill="#000" font-size="11" font-weight="normal" text-anchor="start" textLength="16.8" lengthAdjust="spacingAndGlyphs">148</text>
<text x="1226" y="110.0624" fill="#000" font-size="11" font-weight="normal" text-anchor="start" textLength="16.8" lengthAdjust="spacingAndGlyphs">152</text>
<text x="1226" y="81.5" fill="#000" font-size="11" font-weight="normal" text-anchor="start" textLength="16.8" lengthAdjust="spacingAndGlyphs">156</text>
<text x="1224" y="50" fill="#c8c8c8" font-size="11" font-weight="bold" text-anchor="start">Price</text>
<text x="1223" y="65" fill="#c8c8c8" font-size="11" font-weight="bold" text-anchor="start" textLength="21" lengthAdjust="spacingAndGlyphs">PKR</text>
<rect x="1243.5" y="24.5" width="12" height="12" rx="2.2" fill="#e6ecf6" stroke="#66748c"/><rect x="1245.5" y="26.5" width="8" height="8" fill="#fafbff" stroke="#4a5870" stroke-width="1"/><rect x="1247" y="29" width="5" height="3" fill="#3a4458"/><rect x="1248" y="30" width="3" height="1" fill="#6a7894"/><rect x="1258.5" y="24.5" width="12" height="12" rx="2.2" fill="#eec4cc" stroke="#5a1a28"/><path d="M1261 27.5 L1268 33.5 M1268 27.5 L1261 33.5" stroke="#7a3040" stroke-width="3.6"/><path d="M1261.3 27.8 L1267.7 33.2 M1267.7 27.8 L1261.3 33.2" stroke="#fff" stroke-width="2"/>
<rect x="1218" y="228" width="55" height="13" fill="#003300" shape-rendering="crispEdges"/><text x="1218.2" y="238.5" fill="#e8f0e8" font-size="11" font-weight="normal" text-anchor="start">134.09</text>
<rect x="1218" y="289" width="55" height="13" fill="#003300" shape-rendering="crispEdges"/><text x="1218.2" y="299.5" fill="#e8f0e8" font-size="11" font-weight="normal" text-anchor="start">123.90</text>
<rect x="1218" y="302" width="55" height="13" fill="#ff0000" shape-rendering="crispEdges"/><text x="1218.2" y="312.5" fill="#200000" font-size="11" font-weight="bold" text-anchor="start" textLength="38" lengthAdjust="spacingAndGlyphs">123.69</text>
<rect x="1218" y="373" width="55" height="13" fill="#003300" shape-rendering="crispEdges"/><text x="1218.2" y="383.5" fill="#e8f0e8" font-size="11" font-weight="normal" text-anchor="start">113.72</text>
<rect x="1224.5" y="561.5" width="28" height="12" fill="none" stroke="#d0d0d0" shape-rendering="crispEdges"/><text x="1226" y="572" fill="#c8c8c8" font-size="11" font-weight="bold" text-anchor="start" textLength="25" lengthAdjust="spacingAndGlyphs">Auto</text>
<g shape-rendering="crispEdges">
<rect x="15" y="617" width="1202" height="1" fill="#b02020"/>
<rect x="15" y="643" width="1202" height="1" fill="#b02020"/>
</g>
<polyline points="14.0,625.1 19.0,625.6 26.5,627.1 39.0,630.9 56.6,633.9 74.2,630.1 83.0,632.1 89.2,631.4 101.8,630.9 109.3,628.9 114.3,628.9 123.1,633.1 131.9,632.1 141.9,631.9 151.9,630.6 163.2,628.1 172.0,630.1 184.5,628.1 194.6,627.1 203.3,628.9 212.1,625.1 219.6,627.6 228.4,623.3 234.7,624.6 244.7,626.3 252.2,627.6 259.8,630.9 277.3,630.9 284.8,628.4 292.4,627.1 301.1,624.6 308.7,625.1 317.4,632.6 325.0,636.4 333.8,627.1 340.5,629.4 349.6,620.8 356.3,624.3 368.9,624.6 382.7,627.1 395.2,625.3 407.7,625.1 414.0,626.6 422.8,623.3 432.8,623.1 437.8,624.3 446.6,622.1 454.1,619.3 460.4,620.1 471.7,620.1 478.0,616.8 487.2,609.3 494.3,614.6 503.0,618.1 511.8,620.8 518.1,619.3 528.1,624.3 534.4,625.6 543.2,623.3 553.2,623.3 560.7,624.6 572.0,622.1 578.3,620.1 585.8,615.1 592.1,612.6 599.6,611.3 607.1,613.1 615.9,611.3 631.0,612.6 641.0,617.1 646.0,615.6 654.8,614.3 662.3,618.1 673.6,628.1 681.1,630.9 689.1,629.4 697.4,632.6 705.7,639.4 716.2,635.6 728.8,631.4 737.5,624.3 745.1,623.3 753.8,620.6 761.4,622.6 768.9,623.1 776.4,625.1 794.0,625.1 800.2,622.6 809.0,621.3 816.5,620.6 825.3,624.3 835.3,624.6 841.6,627.1 850.4,627.1 859.2,619.3 866.7,618.3 874.7,613.1 883.7,623.3 890.5,620.1 899.3,623.1 907.5,626.3 915.0,625.1 923.8,620.8 932.6,619.3 938.9,616.8 947.6,620.1 957.7,625.1 965.2,630.9 972.7,634.6 980.3,635.1 987.8,638.1 995.3,640.6 1004.1,636.4 1010.3,637.1 1019.1,635.1 1027.9,635.1 1036.7,630.6 1045.5,630.9 1053.0,632.6 1063.0,631.4 1070.5,630.6 1078.1,631.4 1085.6,626.3 1093.1,629.4 1100.6,628.1 1108.2,627.1 1115.7,628.1 1123.2,629.4 1132.0,632.6 1139.5,633.4 1149.5,628.9 1157.8,631.4" fill="none" stroke="#c01818" stroke-width="1" shape-rendering="crispEdges"/>
<g><circle cx="27.8" cy="584" r="5.6" fill="url(#clk)" stroke="#728299" stroke-width="0.9"/><path d="M28.5 580.8 V584.6 H24.0" fill="none" stroke="#000" stroke-width="1.1"/></g>
<text x="34.7" y="589" fill="#c41e2a" font-size="11" font-weight="normal" text-anchor="start" textLength="187.6" lengthAdjust="spacingAndGlyphs">RSI, OIL &amp; GAS DEV, Trade Price(Last),</text>
<text x="230.5" y="589" fill="#c41e2a" font-size="11" font-weight="normal" text-anchor="start" textLength="104.8" lengthAdjust="spacingAndGlyphs">14, Wilder Smoothing,</text>
<text x="339.9" y="589" fill="#c41e2a" font-size="11" font-weight="normal" text-anchor="start" textLength="90.7" lengthAdjust="spacingAndGlyphs">3/15/2024, 47.479</text>
<rect x="1243.5" y="578.5" width="12" height="12" rx="2.2" fill="#e6ecf6" stroke="#66748c"/><rect x="1245.5" y="580.5" width="8" height="8" fill="#fafbff" stroke="#4a5870" stroke-width="1"/><rect x="1247" y="583" width="5" height="3" fill="#3a4458"/><rect x="1248" y="584" width="3" height="1" fill="#6a7894"/><rect x="1258.5" y="578.5" width="12" height="12" rx="2.2" fill="#eec4cc" stroke="#5a1a28"/><path d="M1261 581.5 L1268 587.5 M1268 581.5 L1261 587.5" stroke="#7a3040" stroke-width="3.6"/><path d="M1261.3 581.8 L1267.7 587.2 M1267.7 581.8 L1261.3 587.2" stroke="#fff" stroke-width="2"/>
<text x="1223.5" y="604" fill="#c8c8c8" font-size="11" font-weight="bold" text-anchor="start" textLength="30.5" lengthAdjust="spacingAndGlyphs">Value</text>
<text x="1223" y="619" fill="#c8c8c8" font-size="11" font-weight="bold" text-anchor="start" textLength="21" lengthAdjust="spacingAndGlyphs">PKR</text>
<rect x="1218" y="625" width="55" height="13" fill="#ff0000" shape-rendering="crispEdges"/><text x="1218.2" y="635.5" fill="#100000" font-size="11" font-weight="bold" text-anchor="start" textLength="38.5" lengthAdjust="spacingAndGlyphs">47.479</text>
<rect x="1224.5" y="657.5" width="28" height="12" fill="none" stroke="#d0d0d0" shape-rendering="crispEdges"/><text x="1226" y="668" fill="#c8c8c8" font-size="11" font-weight="bold" text-anchor="start" textLength="25" lengthAdjust="spacingAndGlyphs">Auto</text>
<rect x="1218" y="663" width="4" height="1" fill="#c0c0c0"/>
<g shape-rendering="crispEdges">
<rect x="15" y="704" width="1202" height="1" fill="#3090d0"/>
<rect x="15" y="740" width="1202" height="1" fill="#3090d0"/>
</g>
<polyline points="14.0,729.5 21.5,722.9 32.8,717.3 40.3,722.0 49.7,732.3 59.1,737.4 66.7,736.1 76.1,727.6 89.2,714.5 98.6,709.7 108.0,708.4 116.5,709.7 126.8,716.3 136.3,727.6 145.7,734.2 155.1,732.3 164.5,724.8 175.7,717.8 183.3,715.4 192.7,715.4 202.1,711.6 211.5,705.4 220.9,706.6 228.4,707.9 236.9,711.1 243.5,710.7 250.0,715.4 259.4,722.9 266.9,730.4 276.3,740.4 285.7,742.7 295.1,734.2 302.7,725.7 310.2,717.8 316.8,716.7 325.2,725.7 332.8,733.6 340.3,735.5 349.7,727.6 357.2,720.1 366.6,711.1 374.1,712.6 383.5,717.3 392.9,725.7 400.5,730.4 413.6,731.0 424.9,726.7 436.2,722.0 447.5,716.3 456.9,710.7 468.2,708.8 478.5,709.2 486.0,708.8 495.4,705.0 504.8,706.0 516.1,713.5 527.4,724.8 536.8,732.3 544.3,737.4 551.8,738.5 561.2,735.1 570.6,730.4 580.0,722.9 589.4,713.5 598.8,706.0 608.3,701.7 617.7,700.3 632.7,700.9 642.1,706.9 651.5,715.4 659.0,719.7 672.2,721.0 681.6,726.1 691.0,735.1 700.4,740.8 713.6,744.5 722.0,741.7 729.5,737.0 740.8,721.0 752.1,704.1 761.5,699.4 770.9,699.4 778.4,705.0 786.0,713.5 793.5,724.8 801.9,729.9 810.4,727.2 817.9,717.3 825.4,713.5 834.8,717.3 842.4,724.8 849.9,733.3 857.4,734.8 866.8,726.7 874.3,712.6 881.9,706.0 891.3,705.0 900.7,713.5 910.1,720.1 917.6,726.7 924.2,727.2 930.8,722.9 938.3,710.7 949.6,703.2 956.2,705.0 958.0,707.9 965.5,718.2 973.0,730.4 980.6,740.8 988.1,746.4 995.6,749.8 1003.1,746.4 1012.5,740.8 1022.0,730.4 1031.4,719.2 1038.9,710.7 1047.3,704.7 1057.7,707.9 1067.1,714.5 1076.5,720.1 1085.9,717.8 1093.4,716.3 1101.9,712.6 1108.5,713.5 1117.9,713.5 1125.4,717.3 1134.8,726.7 1141.4,736.1 1148.0,739.8 1157.4,738.5" fill="none" stroke="#c04020" stroke-width="1" shape-rendering="crispEdges"/>
<polyline points="14.0,720.1 17.8,714.1 26.2,714.1 34.7,722.0 42.2,730.4 49.7,740.8 57.3,737.4 65.7,730.4 70.4,724.8 76.1,717.3 83.6,712.6 91.1,706.6 98.6,709.7 108.0,708.8 116.5,710.7 123.1,719.2 130.6,729.5 139.1,739.8 145.7,734.2 154.1,727.6 159.8,720.1 163.5,715.0 175.7,715.0 181.4,716.3 188.9,718.6 196.4,707.9 202.1,706.0 209.6,703.2 213.4,703.2 220.9,711.3 228.4,706.9 236.9,712.9 243.5,710.7 250.0,720.1 259.4,733.3 268.8,742.7 277.3,746.4 283.9,739.3 293.3,726.7 302.7,713.5 310.2,712.6 317.7,725.7 325.2,738.5 332.8,739.8 342.2,729.5 349.7,714.1 357.2,712.6 365.7,709.2 374.1,713.5 381.7,722.0 389.2,728.6 398.6,733.3 406.1,729.5 415.5,729.9 424.9,724.8 436.2,719.2 447.5,713.5 455.0,709.4 462.5,707.9 470.1,710.3 478.5,710.3 486.0,704.1 494.5,702.2 502.9,706.0 512.3,717.3 519.9,722.0 529.3,733.3 536.8,738.9 542.4,741.2 550.0,735.1 557.5,731.8 566.9,727.6 576.3,721.6 583.8,712.6 591.3,703.2 598.8,701.3 608.3,700.3 617.7,699.4 632.7,700.3 638.3,712.6 647.7,721.0 656.2,721.0 663.7,717.8 672.2,722.0 681.6,737.0 689.1,739.8 697.6,741.2 705.1,744.5 712.6,746.0 719.2,739.3 729.5,727.6 737.0,711.6 744.6,704.1 754.0,696.0 761.5,699.4 769.0,700.3 778.4,712.6 786.0,724.8 794.4,737.4 802.9,727.6 810.4,718.2 817.9,707.3 825.4,714.5 834.8,724.8 842.4,735.1 850.8,739.8 859.3,723.9 866.8,711.6 875.3,696.6 882.8,706.9 891.3,710.7 898.8,719.2 908.2,723.9 915.7,732.3 925.1,722.0 932.6,708.8 939.2,698.5 947.7,703.2 955.2,711.6 958.0,718.2 965.5,733.3 973.0,743.6 980.6,750.2 988.1,749.2 995.6,748.7 1003.1,742.7 1012.5,735.1 1020.1,723.9 1027.6,716.3 1035.1,703.5 1042.6,701.3 1050.2,706.9 1059.6,717.8 1067.1,719.7 1075.5,721.0 1085.9,713.5 1093.4,714.1 1100.9,710.7 1108.5,714.1 1117.9,715.4 1125.4,723.9 1133.9,738.0 1141.4,747.4 1148.0,738.9 1157.4,732.3" fill="none" stroke="#2a90d8" stroke-width="1" shape-rendering="crispEdges"/>
<g><circle cx="27.8" cy="680" r="5.6" fill="url(#clk)" stroke="#728299" stroke-width="0.9"/><path d="M28.5 676.8 V680.6 H24.0" fill="none" stroke="#000" stroke-width="1.1"/></g>
<text x="34.7" y="685" fill="#2a8ad0" font-size="11" font-weight="normal" text-anchor="start" textLength="176.3" lengthAdjust="spacingAndGlyphs">StochS, OIL &amp; GAS DEV, Trade Price,</text>
<text x="218.3" y="685" fill="#2a8ad0" font-size="11" font-weight="normal" text-anchor="start" textLength="72.2" lengthAdjust="spacingAndGlyphs">5, 3, Simple, 3,</text>
<text x="295.1" y="685" fill="#2a8ad0" font-size="11" font-weight="normal" text-anchor="start" textLength="95.2" lengthAdjust="spacingAndGlyphs">3/15/2024, 34.162,</text>
<text x="392.9" y="685" fill="#d03018" font-size="11" font-weight="normal" text-anchor="start" textLength="33.7" lengthAdjust="spacingAndGlyphs">22.986</text>
<rect x="1243.5" y="674.5" width="12" height="12" rx="2.2" fill="#e6ecf6" stroke="#66748c"/><rect x="1245.5" y="676.5" width="8" height="8" fill="#fafbff" stroke="#4a5870" stroke-width="1"/><rect x="1247" y="679" width="5" height="3" fill="#3a4458"/><rect x="1248" y="680" width="3" height="1" fill="#6a7894"/><rect x="1258.5" y="674.5" width="12" height="12" rx="2.2" fill="#eec4cc" stroke="#5a1a28"/><path d="M1261 677.5 L1268 683.5 M1268 677.5 L1261 683.5" stroke="#7a3040" stroke-width="3.6"/><path d="M1261.3 677.8 L1267.7 683.2 M1267.7 677.8 L1261.3 683.2" stroke="#fff" stroke-width="2"/>
<text x="1223.5" y="699.5" fill="#c8c8c8" font-size="11" font-weight="bold" text-anchor="start" textLength="30.5" lengthAdjust="spacingAndGlyphs">Value</text>
<text x="1223" y="714.5" fill="#c8c8c8" font-size="11" font-weight="bold" text-anchor="start" textLength="21" lengthAdjust="spacingAndGlyphs">PKR</text>
<text x="1226" y="729" fill="#d8d8d8" font-size="11" font-weight="normal" text-anchor="start">50</text>
<rect x="1224.5" y="746.5" width="28" height="12" fill="none" stroke="#d0d0d0" shape-rendering="crispEdges"/><text x="1226" y="757" fill="#c8c8c8" font-size="11" font-weight="bold" text-anchor="start" textLength="25" lengthAdjust="spacingAndGlyphs">Auto</text>
<rect x="1218" y="726" width="55" height="13" fill="#1a98f0" shape-rendering="crispEdges"/><text x="1218.2" y="736.5" fill="#001040" font-size="11" font-weight="bold" text-anchor="start" textLength="38" lengthAdjust="spacingAndGlyphs">34.162</text>
<rect x="1218" y="739" width="55" height="13" fill="#ff3800" shape-rendering="crispEdges"/><text x="1218.2" y="749.5" fill="#300000" font-size="11" font-weight="normal" text-anchor="start">22.986</text>
<rect x="15" y="808" width="1202" height="1" fill="#e0d020" shape-rendering="crispEdges"/>
<polyline points="14.0,793.1 39.1,796.3 64.2,800.1 89.2,803.9 114.3,806.4 139.4,807.6 200.0,808.0 330.0,807.6 355.1,807.1 380.2,805.1 417.8,804.6 455.4,803.9 480.5,802.6 493.0,801.3 515.6,798.3 555.7,798.8 580.8,798.1 605.9,794.6 630.9,790.6 650.0,788.5 671.1,788.3 696.2,792.1 721.2,798.8 733.8,802.1 751.3,802.1 771.4,800.6 796.5,798.8 821.5,797.1 859.2,796.3 884.2,792.6 900.0,791.5 903.3,790.4 918.7,790.4 919.7,789.4 932.9,789.4 938.4,787.5 943.9,786.4 951.0,785.4 960.3,785.1 968.0,785.4 973.6,786.3 981.1,789.4 988.2,792.5 997.6,798.3 1007.0,803.6 1016.3,808.3 1022.0,810.5 1037.9,814.6 1055.5,816.9 1075.5,817.1 1095.6,814.6 1118.2,811.9 1138.2,810.6 1157.8,809.6" fill="none" stroke="#2098d0" stroke-width="1" shape-rendering="crispEdges"/>
<polyline points="14.0,795.6 29.0,797.6 44.1,801.3 61.6,805.9 84.2,807.6 119.3,808.9 144.4,810.1 174.5,808.9 209.6,807.6 232.2,806.4 264.8,807.1 289.9,807.6 304.9,806.9 330.0,807.6 352.6,805.1 375.1,804.4 417.8,803.9 435.3,802.6 475.5,802.1 485.5,798.1 500.5,796.3 530.6,796.3 538.2,797.6 555.7,798.8 580.8,797.6 595.8,793.1 620.9,787.6 646.0,786.3 666.1,787.6 678.6,792.6 696.2,797.6 711.2,805.1 728.8,808.9 741.3,805.9 758.9,799.3 783.9,798.3 816.5,795.1 836.6,795.1 859.2,794.6 874.2,788.8 886.0,787.6 900.0,787.3 903.3,788.4 911.0,789.4 918.1,788.4 921.9,787.3 928.5,786.2 932.9,784.6 937.3,782.1 943.9,780.5 950.5,780.5 954.9,781.3 958.1,782.7 960.9,784.9 964.7,786.5 969.4,790.3 976.4,796.4 983.5,803.2 990.0,808.5 997.6,815.5 1007.0,819.4 1025.4,823.9 1042.9,820.2 1060.5,818.9 1080.6,813.9 1098.1,810.6 1113.2,808.9 1130.7,808.4 1157.8,808.9" fill="none" stroke="#d8c830" stroke-width="1" shape-rendering="crispEdges"/>
<g><circle cx="27.8" cy="768" r="5.6" fill="url(#clk)" stroke="#728299" stroke-width="0.9"/><path d="M28.5 764.8 V768.6 H24.0" fill="none" stroke="#000" stroke-width="1.1"/></g>
<text x="34.7" y="773" fill="#d8c820" font-size="11" font-weight="normal" text-anchor="start" textLength="200.1" lengthAdjust="spacingAndGlyphs">MACD, OIL &amp; GAS DEV, Trade Price(Last),</text>
<text x="242.4" y="773" fill="#d8c820" font-size="11" font-weight="normal" text-anchor="start" textLength="108.4" lengthAdjust="spacingAndGlyphs">12, 26, 9, Exponential,</text>
<text x="356.5" y="773" fill="#d8c820" font-size="11" font-weight="normal" text-anchor="start" textLength="85.9" lengthAdjust="spacingAndGlyphs">3/15/2024, -0.53,</text>
<text x="447.2" y="773" fill="#20b0e0" font-size="11" font-weight="normal" text-anchor="start" textLength="25.9" lengthAdjust="spacingAndGlyphs">-0.54</text>
<rect x="1243.5" y="762.5" width="12" height="12" rx="2.2" fill="#e6ecf6" stroke="#66748c"/><rect x="1245.5" y="764.5" width="8" height="8" fill="#fafbff" stroke="#4a5870" stroke-width="1"/><rect x="1247" y="767" width="5" height="3" fill="#3a4458"/><rect x="1248" y="768" width="3" height="1" fill="#6a7894"/><rect x="1258.5" y="762.5" width="12" height="12" rx="2.2" fill="#eec4cc" stroke="#5a1a28"/><path d="M1261 765.5 L1268 771.5 M1268 765.5 L1261 771.5" stroke="#7a3040" stroke-width="3.6"/><path d="M1261.3 765.8 L1267.7 771.2 M1267.7 765.8 L1261.3 771.2" stroke="#fff" stroke-width="2"/>
<text x="1223.5" y="788" fill="#c8c8c8" font-size="11" font-weight="bold" text-anchor="start" textLength="30.5" lengthAdjust="spacingAndGlyphs">Value</text>
<text x="1223" y="803" fill="#c8c8c8" font-size="11" font-weight="bold" text-anchor="start" textLength="21" lengthAdjust="spacingAndGlyphs">PKR</text>
<rect x="1218" y="804" width="55" height="13" fill="#e8dc00" shape-rendering="crispEdges"/><text x="1218.2" y="814.5" fill="#000" font-size="11" font-weight="bold" text-anchor="start" textLength="29.5" lengthAdjust="spacingAndGlyphs">-0.53</text>
<rect x="1218" y="817" width="55" height="13" fill="#00ccff" shape-rendering="crispEdges"/><text x="1218.2" y="827.5" fill="#001030" font-size="11" font-weight="normal" text-anchor="start">-0.54</text>
<g shape-rendering="crispEdges">
<rect x="34" y="832" width="1" height="3" fill="#000"/>
<rect x="75" y="832" width="1" height="3" fill="#000"/>
<rect x="115" y="832" width="1" height="3" fill="#000"/>
<rect x="155" y="832" width="1" height="3" fill="#000"/>
<rect x="196" y="832" width="1" height="3" fill="#000"/>
<rect x="228" y="832" width="1" height="3" fill="#000"/>
<rect x="269" y="832" width="1" height="3" fill="#000"/>
<rect x="309" y="832" width="1" height="3" fill="#000"/>
<rect x="349" y="832" width="1" height="3" fill="#000"/>
<rect x="390" y="832" width="1" height="3" fill="#000"/>
<rect x="430" y="832" width="1" height="3" fill="#000"/>
<rect x="462" y="832" width="1" height="3" fill="#000"/>
<rect x="503" y="832" width="1" height="3" fill="#000"/>
<rect x="543" y="832" width="1" height="3" fill="#000"/>
<rect x="584" y="832" width="1" height="3" fill="#000"/>
<rect x="624" y="832" width="1" height="3" fill="#000"/>
<rect x="664" y="832" width="1" height="3" fill="#000"/>
<rect x="705" y="832" width="1" height="3" fill="#000"/>
<rect x="737" y="832" width="1" height="3" fill="#000"/>
<rect x="778" y="832" width="1" height="3" fill="#000"/>
<rect x="818" y="832" width="1" height="3" fill="#000"/>
<rect x="858" y="832" width="1" height="3" fill="#000"/>
<rect x="899" y="832" width="1" height="3" fill="#000"/>
<rect x="939" y="832" width="1" height="3" fill="#000"/>
<rect x="963" y="832" width="1" height="3" fill="#000"/>
<rect x="1004" y="832" width="1" height="3" fill="#000"/>
<rect x="1044" y="832" width="1" height="3" fill="#000"/>
<rect x="1085" y="832" width="1" height="3" fill="#000"/>
<rect x="1125" y="832" width="1" height="3" fill="#000"/>
<rect x="1166" y="832" width="1" height="3" fill="#000"/>
<rect x="1206" y="832" width="1" height="3" fill="#000"/>
<rect x="66" y="832" width="1" height="3" fill="#000"/>
<rect x="66" y="848" width="1" height="13" fill="#000"/>
<rect x="228" y="832" width="1" height="3" fill="#000"/>
<rect x="228" y="848" width="1" height="13" fill="#000"/>
<rect x="406" y="832" width="1" height="3" fill="#000"/>
<rect x="406" y="848" width="1" height="13" fill="#000"/>
<rect x="576" y="832" width="1" height="3" fill="#000"/>
<rect x="576" y="848" width="1" height="13" fill="#000"/>
<rect x="737" y="832" width="1" height="3" fill="#000"/>
<rect x="737" y="848" width="1" height="13" fill="#000"/>
<rect x="923" y="832" width="1" height="3" fill="#000"/>
<rect x="923" y="848" width="1" height="13" fill="#000"/>
<rect x="1077" y="832" width="1" height="3" fill="#000"/>
<rect x="1077" y="848" width="1" height="13" fill="#000"/>
</g>
<text x="35.5" y="845" fill="#000" font-size="11" font-weight="normal" text-anchor="middle">28</text>
<text x="76.5" y="845" fill="#000" font-size="11" font-weight="normal" text-anchor="middle">04</text>
<text x="116.5" y="845" fill="#000" font-size="11" font-weight="normal" text-anchor="middle">11</text>
<text x="156.5" y="845" fill="#000" font-size="11" font-weight="normal" text-anchor="middle">18</text>
<text x="197.5" y="845" fill="#000" font-size="11" font-weight="normal" text-anchor="middle">25</text>
<text x="229.5" y="845" fill="#000" font-size="11" font-weight="normal" text-anchor="middle">02</text>
<text x="270.5" y="845" fill="#000" font-size="11" font-weight="normal" text-anchor="middle">09</text>
<text x="310.5" y="845" fill="#000" font-size="11" font-weight="normal" text-anchor="middle">16</text>
<text x="350.5" y="845" fill="#000" font-size="11" font-weight="normal" text-anchor="middle">23</text>
<text x="391.5" y="845" fill="#000" font-size="11" font-weight="normal" text-anchor="middle">30</text>
<text x="431.5" y="845" fill="#000" font-size="11" font-weight="normal" text-anchor="middle">06</text>
<text x="463.5" y="845" fill="#000" font-size="11" font-weight="normal" text-anchor="middle">13</text>
<text x="504.5" y="845" fill="#000" font-size="11" font-weight="normal" text-anchor="middle">20</text>
<text x="544.5" y="845" fill="#000" font-size="11" font-weight="normal" text-anchor="middle">27</text>
<text x="585.5" y="845" fill="#000" font-size="11" font-weight="normal" text-anchor="middle">04</text>
<text x="625.5" y="845" fill="#000" font-size="11" font-weight="normal" text-anchor="middle">11</text>
<text x="665.5" y="845" fill="#000" font-size="11" font-weight="normal" text-anchor="middle">18</text>
<text x="706.5" y="845" fill="#000" font-size="11" font-weight="normal" text-anchor="middle">26</text>
<text x="738.5" y="845" fill="#000" font-size="11" font-weight="normal" text-anchor="middle">01</text>
<text x="779.5" y="845" fill="#000" font-size="11" font-weight="normal" text-anchor="middle">08</text>
<text x="819.5" y="845" fill="#000" font-size="11" font-weight="normal" text-anchor="middle">15</text>
<text x="859.5" y="845" fill="#000" font-size="11" font-weight="normal" text-anchor="middle">22</text>
<text x="900.5" y="845" fill="#000" font-size="11" font-weight="normal" text-anchor="middle">29</text>
<text x="940.5" y="845" fill="#000" font-size="11" font-weight="normal" text-anchor="middle">06</text>
<text x="964.5" y="845" fill="#000" font-size="11" font-weight="normal" text-anchor="middle">12</text>
<text x="1005.5" y="845" fill="#000" font-size="11" font-weight="normal" text-anchor="middle">19</text>
<text x="1045.5" y="845" fill="#000" font-size="11" font-weight="normal" text-anchor="middle">26</text>
<text x="1086.5" y="845" fill="#000" font-size="11" font-weight="normal" text-anchor="middle">04</text>
<text x="1126.5" y="845" fill="#000" font-size="11" font-weight="normal" text-anchor="middle">11</text>
<text x="1167.5" y="845" fill="#000" font-size="11" font-weight="normal" text-anchor="middle">18</text>
<text x="1207.5" y="845" fill="#000" font-size="11" font-weight="normal" text-anchor="middle">25</text>
<text x="20" y="858" fill="#000" font-size="11" font-weight="bold" text-anchor="start" textLength="39" lengthAdjust="spacingAndGlyphs">Aug 23</text>
<text x="100.3" y="858" fill="#000" font-size="11" font-weight="bold" text-anchor="start" textLength="94" lengthAdjust="spacingAndGlyphs">September 2023</text>
<text x="279.1" y="858" fill="#000" font-size="11" font-weight="bold" text-anchor="start" textLength="76" lengthAdjust="spacingAndGlyphs">October 2023</text>
<text x="446.1" y="858" fill="#000" font-size="11" font-weight="bold" text-anchor="start" textLength="89.5" lengthAdjust="spacingAndGlyphs">November 2023</text>
<text x="612.3" y="858" fill="#000" font-size="11" font-weight="bold" text-anchor="start" textLength="88.5" lengthAdjust="spacingAndGlyphs">December 2023</text>
<text x="791" y="858" fill="#000" font-size="11" font-weight="bold" text-anchor="start" textLength="77" lengthAdjust="spacingAndGlyphs">January 2024</text>
<text x="959.6" y="858" fill="#000" font-size="11" font-weight="bold" text-anchor="start" textLength="81" lengthAdjust="spacingAndGlyphs">February 2024</text>
<text x="1114.4" y="858" fill="#000" font-size="11" font-weight="bold" text-anchor="start" textLength="65.5" lengthAdjust="spacingAndGlyphs">March 2024</text>
</svg></body></html>
